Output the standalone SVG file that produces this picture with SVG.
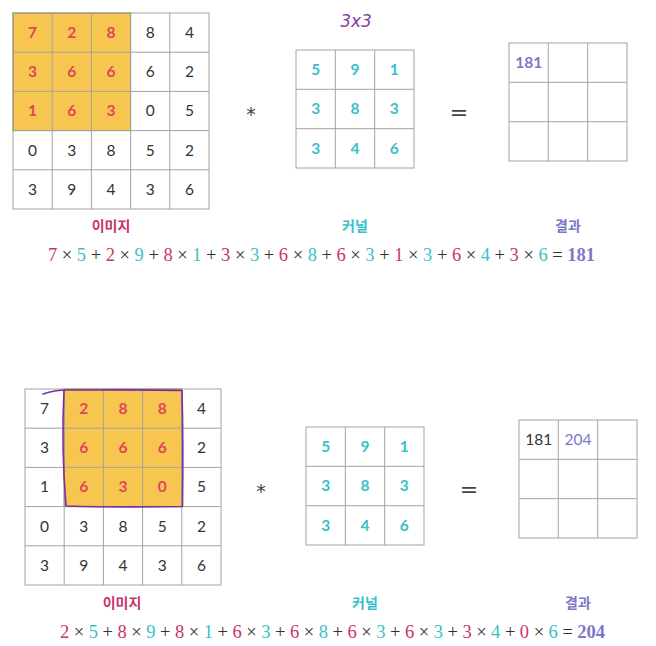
<svg xmlns="http://www.w3.org/2000/svg" width="656" height="646" viewBox="0 0 656 646">
<style>
.cell{fill:#fff;stroke:#a3a3a3;stroke-width:1}
.hl{fill:#f7c650;stroke:#8a7a55;stroke-width:1}
.n{font-family:Lato,"Noto Sans",sans-serif;font-size:15.5px;text-anchor:middle;fill:#333}
.r{fill:#e2445c;font-weight:bold}
.t{fill:#3bbfc8;font-weight:bold}
.p{fill:#7c78c8;font-weight:bold}
.pu{fill:#7c78c8}
.lab{font-family:"Noto Sans CJK KR",sans-serif;font-size:14px;font-weight:bold;text-anchor:middle}
.eq{font-family:"Liberation Serif","DejaVu Serif",serif;font-size:18.5px;fill:#333}
.er{fill:#cc336a}
.et{fill:#3bbfc8}
.ep{fill:#7c78c8;font-weight:bold}
.op{font-family:"DejaVu Sans",sans-serif;fill:#444;text-anchor:middle}
</style>
<rect width="656" height="646" fill="#fff"/>

<!-- TOP -->
<g id="top-image">
<rect class="hl" x="13" y="13" width="117.6" height="117.6"/>
<g fill="none" stroke="#a3a3a3">
<rect x="13" y="13" width="196" height="196"/>
<path d="M52.2,13V209M91.4,13V209M130.6,13V209M169.8,13V209M13,52.2H209M13,91.4H209M13,130.6H209M13,169.8H209"/>
</g>
<g class="n">
<text x="32.6" y="38" class="r">7</text><text x="71.8" y="38" class="r">2</text><text x="111" y="38" class="r">8</text><text x="150.2" y="38">8</text><text x="189.4" y="38">4</text>
<text x="32.6" y="77.2" class="r">3</text><text x="71.8" y="77.2" class="r">6</text><text x="111" y="77.2" class="r">6</text><text x="150.2" y="77.2">6</text><text x="189.4" y="77.2">2</text>
<text x="32.6" y="116.4" class="r">1</text><text x="71.8" y="116.4" class="r">6</text><text x="111" y="116.4" class="r">3</text><text x="150.2" y="116.4">0</text><text x="189.4" y="116.4">5</text>
<text x="32.6" y="155.6">0</text><text x="71.8" y="155.6">3</text><text x="111" y="155.6">8</text><text x="150.2" y="155.6">5</text><text x="189.4" y="155.6">2</text>
<text x="32.6" y="194.8">3</text><text x="71.8" y="194.8">9</text><text x="111" y="194.8">4</text><text x="150.2" y="194.8">3</text><text x="189.4" y="194.8">6</text>
</g>
<text class="lab" x="111" y="231" fill="#cc336a">이미지</text>
</g>

<text class="op" x="251" y="121" font-size="19">*</text>

<g id="top-kernel">
<g fill="none" stroke="#a3a3a3">
<rect x="296" y="50" width="118" height="118"/>
<path d="M335.3,50V168M374.7,50V168M296,89.3H414M296,128.7H414"/>
</g>
<g class="n">
<text x="315.7" y="75" class="t">5</text><text x="355" y="75" class="t">9</text><text x="394.3" y="75" class="t">1</text>
<text x="315.7" y="114.3" class="t">3</text><text x="355" y="114.3" class="t">8</text><text x="394.3" y="114.3" class="t">3</text>
<text x="315.7" y="153.6" class="t">3</text><text x="355" y="153.6" class="t">4</text><text x="394.3" y="153.6" class="t">6</text>
</g>
<text x="356" y="27" font-family="'DejaVu Sans',sans-serif" font-size="17" fill="#8a3aa6" text-anchor="middle" font-style="italic">3x3</text>
<text class="lab" x="355" y="231" fill="#3bbfc8">커널</text>
</g>

<text class="op" x="459" y="120" font-size="22">=</text>

<g id="top-result">
<g fill="none" stroke="#a3a3a3">
<rect x="509" y="43" width="118" height="118"/>
<path d="M548.3,43V161M587.7,43V161M509,82.3H627M509,121.7H627"/>
</g>
<text class="n p" x="528.7" y="68">181</text>
<text class="lab" x="568" y="231" fill="#7c78c8">결과</text>
</g>

<g id="top-equation">
<text class="eq" x="48" y="261" textLength="547" lengthAdjust="spacing"><tspan class="er">7</tspan> × <tspan class="et">5</tspan> + <tspan class="er">2</tspan> × <tspan class="et">9</tspan> + <tspan class="er">8</tspan> × <tspan class="et">1</tspan> + <tspan class="er">3</tspan> × <tspan class="et">3</tspan> + <tspan class="er">6</tspan> × <tspan class="et">8</tspan> + <tspan class="er">6</tspan> × <tspan class="et">3</tspan> + <tspan class="er">1</tspan> × <tspan class="et">3</tspan> + <tspan class="er">6</tspan> × <tspan class="et">4</tspan> + <tspan class="er">3</tspan> × <tspan class="et">6</tspan> = <tspan class="ep">181</tspan></text>
</g>

<!-- BOTTOM -->
<g id="bottom-image">
<rect class="hl" x="64.2" y="389" width="117.6" height="117.6"/>
<g fill="none" stroke="#a3a3a3">
<rect x="25" y="389" width="196" height="196"/>
<path d="M64.2,389V585M103.4,389V585M142.6,389V585M181.8,389V585M25,428.2H221M25,467.4H221M25,506.6H221M25,545.8H221"/>
</g>
<g class="n">
<text x="44.6" y="414">7</text><text x="83.8" y="414" class="r">2</text><text x="123" y="414" class="r">8</text><text x="162.2" y="414" class="r">8</text><text x="201.4" y="414">4</text>
<text x="44.6" y="453.2">3</text><text x="83.8" y="453.2" class="r">6</text><text x="123" y="453.2" class="r">6</text><text x="162.2" y="453.2" class="r">6</text><text x="201.4" y="453.2">2</text>
<text x="44.6" y="492.4">1</text><text x="83.8" y="492.4" class="r">6</text><text x="123" y="492.4" class="r">3</text><text x="162.2" y="492.4" class="r">0</text><text x="201.4" y="492.4">5</text>
<text x="44.6" y="531.6">0</text><text x="83.8" y="531.6">3</text><text x="123" y="531.6">8</text><text x="162.2" y="531.6">5</text><text x="201.4" y="531.6">2</text>
<text x="44.6" y="570.8">3</text><text x="83.8" y="570.8">9</text><text x="123" y="570.8">4</text><text x="162.2" y="570.8">3</text><text x="201.4" y="570.8">6</text>
</g>
<path d="M43,394 C52,391 60,390 66,390 C100,390 150,389.5 182,390.5 C183,430 183,470 182.5,506.5 C150,507 100,507 66,506 C63,470 62,430 64,390" fill="none" stroke="#7a2fa0" stroke-width="1.6" stroke-linecap="round" stroke-linejoin="round"/>
<text class="lab" x="122" y="608" fill="#cc336a">이미지</text>
</g>

<text class="op" x="261" y="498" font-size="19">*</text>

<g id="bottom-kernel">
<g fill="none" stroke="#a3a3a3">
<rect x="306" y="427" width="118" height="118"/>
<path d="M345.3,427V545M384.7,427V545M306,466.3H424M306,505.7H424"/>
</g>
<g class="n">
<text x="325.7" y="452" class="t">5</text><text x="365" y="452" class="t">9</text><text x="404.3" y="452" class="t">1</text>
<text x="325.7" y="491.3" class="t">3</text><text x="365" y="491.3" class="t">8</text><text x="404.3" y="491.3" class="t">3</text>
<text x="325.7" y="530.6" class="t">3</text><text x="365" y="530.6" class="t">4</text><text x="404.3" y="530.6" class="t">6</text>
</g>
<text class="lab" x="365" y="608" fill="#3bbfc8">커널</text>
</g>

<text class="op" x="469" y="497" font-size="22">=</text>

<g id="bottom-result">
<g fill="none" stroke="#a3a3a3">
<rect x="519" y="420" width="118" height="118"/>
<path d="M558.3,420V538M597.7,420V538M519,459.3H637M519,498.7H637"/>
</g>
<text class="n" x="538.7" y="445">181</text>
<text class="n pu" x="578" y="445">204</text>
<text class="lab" x="578" y="608" fill="#7c78c8">결과</text>
</g>

<g id="bottom-equation">
<text class="eq" x="60" y="638" textLength="545" lengthAdjust="spacing"><tspan class="er">2</tspan> × <tspan class="et">5</tspan> + <tspan class="er">8</tspan> × <tspan class="et">9</tspan> + <tspan class="er">8</tspan> × <tspan class="et">1</tspan> + <tspan class="er">6</tspan> × <tspan class="et">3</tspan> + <tspan class="er">6</tspan> × <tspan class="et">8</tspan> + <tspan class="er">6</tspan> × <tspan class="et">3</tspan> + <tspan class="er">6</tspan> × <tspan class="et">3</tspan> + <tspan class="er">3</tspan> × <tspan class="et">4</tspan> + <tspan class="er">0</tspan> × <tspan class="et">6</tspan> = <tspan class="ep">204</tspan></text>
</g>
</svg>
